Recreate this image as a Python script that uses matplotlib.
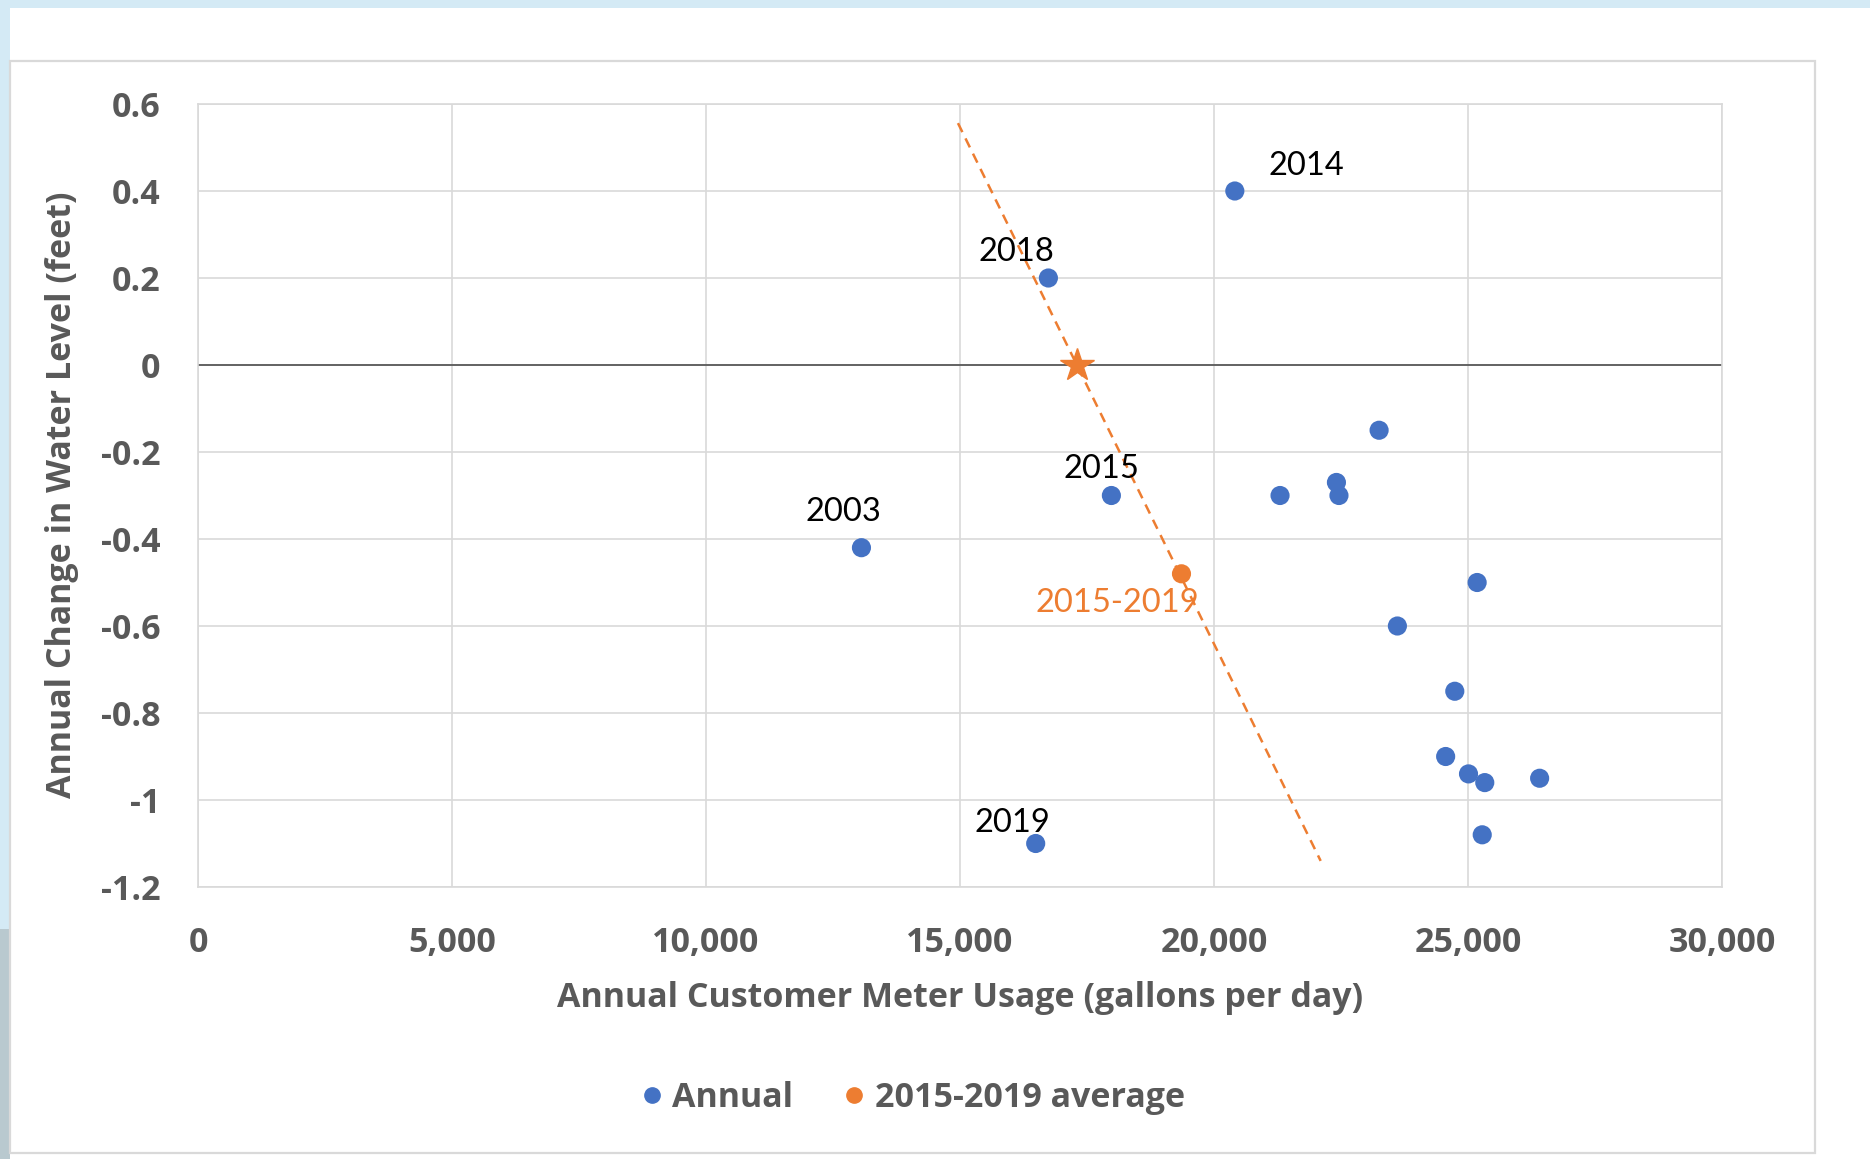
import matplotlib
matplotlib.use('Agg')
import matplotlib.pyplot as plt
from matplotlib.patches import Rectangle
from matplotlib.lines import Line2D

# ---- data ----
annual_usage = [13060, 20410, 17980, 16740, 16490, 21300, 22410, 22460, 23250,
                25180, 23610, 24740, 24560, 25010, 25330, 26410, 25280]
annual_change = [-0.42, 0.40, -0.30, 0.20, -1.10, -0.30, -0.27, -0.30, -0.15,
                 -0.50, -0.60, -0.75, -0.90, -0.94, -0.96, -0.95, -1.08]
label_years = ['2003', '2014', '2015', '2018', '2019']
label_offsets = [(-18, 36), (72, 25), (-10, 27), (-32, 26), (-23, 20)]  # pixels

avg_usage = [19360]
avg_change = [-0.48]
avg_label = '2015-2019'

star_usage = [17310]
star_change = [0.0]

trend_usage = [14960, 22100]
trend_change = [0.556, -1.14]

xticks = [0, 5000, 10000, 15000, 20000, 25000, 30000]
xtick_labels = ['0', '5,000', '10,000', '15,000', '20,000', '25,000', '30,000']
yticks = [-1.2, -1.0, -0.8, -0.6, -0.4, -0.2, 0.0, 0.2, 0.4, 0.6]
ytick_labels = ['-1.2', '-1', '-0.8', '-0.6', '-0.4', '-0.2', '0', '0.2', '0.4', '0.6']

# ---- style ----
BLUE = '#4472C4'
ORANGE = '#ED7D31'
GREY = '#595959'
GRID = '#D9D9D9'
W, H = 1870, 1159
FS = 24.5

fig = plt.figure(figsize=(W / 100, H / 100), dpi=100)
fig.patch.set_facecolor('white')

# page background strips
fig.add_artist(Rectangle((0, 1 - 8 / H), 1, 8 / H, transform=fig.transFigure,
                         facecolor='#D4EAF5', edgecolor='none', zorder=0))
fig.add_artist(Rectangle((0, 0), 10 / W, 1, transform=fig.transFigure,
                         facecolor='#D4EAF5', edgecolor='none', zorder=0))
fig.add_artist(Rectangle((0, 0), 10 / W, 230 / H, transform=fig.transFigure,
                         facecolor='#B9C9CF', edgecolor='none', zorder=0))
# chart box border
fig.add_artist(Rectangle((10 / W, 1 - 1153 / H), (1815 - 10) / W, (1153 - 61) / H,
                         transform=fig.transFigure, facecolor='none',
                         edgecolor=GRID, linewidth=1.6, zorder=1))

ax = fig.add_axes([198 / W, 1 - 887 / H, (1722 - 198) / W, (887 - 104) / H])
ax.set_xlim(0, 30000)
ax.set_ylim(-1.2, 0.6)
ax.set_xticks(xticks)
ax.set_xticklabels(xtick_labels)
ax.set_yticks(yticks)
ax.set_yticklabels(ytick_labels)
ax.tick_params(length=0, labelsize=FS, labelcolor=GREY)
ax.tick_params(axis='y', pad=27)
ax.tick_params(axis='x', pad=28)
for lab in ax.get_xticklabels() + ax.get_yticklabels():
    lab.set_fontfamily('Open Sans')
    lab.set_fontweight('bold')
ax.grid(True, color=GRID, linewidth=1.2)
ax.set_axisbelow(True)
for s in ax.spines.values():
    s.set_color(GRID)
    s.set_linewidth(1.2)

ax.axhline(0, color=GREY, linewidth=1.3, zorder=2)

ax.plot(trend_usage, trend_change, color=ORANGE, linewidth=1.8,
        linestyle=(0, (4, 2.8)), zorder=3)
ax.scatter(annual_usage, annual_change, s=190, color=BLUE, edgecolors='none', zorder=4)
ax.scatter(avg_usage, avg_change, s=190, color=ORANGE, edgecolors='none', zorder=4)
ax.plot(star_usage, star_change, marker='*', markersize=25, color=ORANGE,
        linestyle='none', zorder=5)

for yr, (dx, dy), xv, yv in zip(label_years, label_offsets, annual_usage, annual_change):
    ax.annotate(yr, (xv, yv), xytext=(dx, dy), textcoords='offset pixels',
                ha='center', va='center', fontsize=23.5, color='black',
                fontfamily='Lato', zorder=6)
ax.annotate(avg_label, (avg_usage[0], avg_change[0]), xytext=(-64, -29),
            textcoords='offset pixels', ha='center', va='center', fontsize=23.5,
            color=ORANGE, fontfamily='Lato', zorder=6)

fig.text(62 / W, 1 - 495 / H, 'Annual Change in Water Level (feet)', rotation=90,
         ha='center', va='center', fontsize=FS, color=GREY,
         fontfamily='Open Sans', fontweight='bold')
fig.text(960 / W, 1 - 998 / H, 'Annual Customer Meter Usage (gallons per day)',
         ha='center', va='center', fontsize=FS, color=GREY,
         fontfamily='Open Sans', fontweight='bold')

handles = [Line2D([], [], marker='o', linestyle='none', color=BLUE, markersize=11),
           Line2D([], [], marker='o', linestyle='none', color=ORANGE, markersize=11)]
leg = fig.legend(handles, ['Annual', '2015-2019 average'], loc='center',
                 bbox_to_anchor=(913 / W, 1 - 1098 / H), ncol=2, frameon=False,
                 handlelength=0.6, handletextpad=0.3, columnspacing=1.5,
                 prop={'family': 'Open Sans', 'weight': 'bold', 'size': FS})
for t in leg.get_texts():
    t.set_color(GREY)

fig.savefig('out.png', dpi=100)
